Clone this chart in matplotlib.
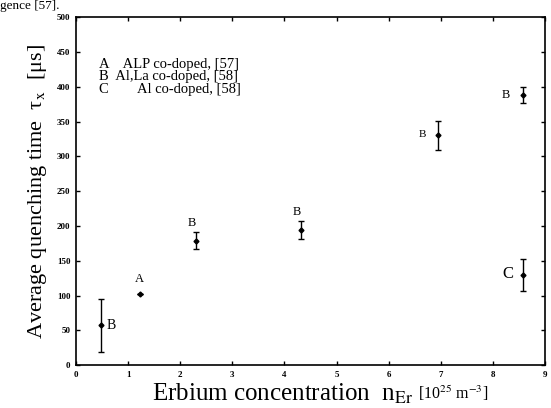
import matplotlib
matplotlib.use('Agg')
import matplotlib.pyplot as plt

plt.rcParams['font.family'] = ['Liberation Serif', 'DejaVu Serif']
plt.rcParams['mathtext.fontset'] = 'stix'

# data
conc = [0.47, 1.22, 2.30, 4.32, 6.95, 8.57, 8.58]
tau = [57, 102, 179, 194, 330, 388, 129]
err_lo = [38, 0, 12, 13, 21, 11, 23]
err_hi = [38, 0, 12, 13, 21, 12, 23]
labels = ['B', 'A', 'B', 'B', 'B', 'B', 'C']
# label offsets in points (dx, dy)
offs = [(8, 0), (0, 11), (-3, 13), (-3, 13), (-11, 1), (-12, 0), (-11, 1)]
lab_size = [10, 9, 9, 9, 8, 9, 12]

legend_lines = ['A    ALP co-doped, [57]',
                'B  Al,La co-doped, [58]',
                'C        Al co-doped, [58]']

fig = plt.figure(figsize=(5.51, 4.08), dpi=100)
ax = fig.add_axes([0.138, 0.105, 0.851, 0.853])

ax.errorbar(conc, tau, yerr=[err_lo, err_hi], fmt='D', color='black',
            markersize=2.5, elinewidth=1.0, capsize=2.5, capthick=1.0)

for x, y, t, (dx, dy), s in zip(conc, tau, labels, offs, lab_size):
    ax.annotate(t, (x, y), xytext=(dx, dy), textcoords='offset points',
                ha='center', va='center', fontsize=s)

for i, line in enumerate(legend_lines):
    ax.text(0.05, 0.865 - i * 0.037, line, transform=ax.transAxes,
            fontsize=10.5, va='center', ha='left')

ax.set_xlim(0, 9)
ax.set_ylim(0, 500)
ax.set_xticks(range(0, 10))
ax.set_yticks(range(0, 501, 50))
ax.tick_params(direction='in', top=True, right=True, length=3, width=1,
               labelsize=6.5, pad=4)
for lab in ax.get_xticklabels() + ax.get_yticklabels():
    lab.set_fontweight('bold')
for sp in ax.spines.values():
    sp.set_linewidth(1.2)

ax.set_ylabel('Average quenching time  τ$_{\\rm x}$  [μs]', fontsize=16, labelpad=6)

# x label: main part large, units part smaller
base_y = 1 - 401 / 408
xl = fig.text(152 / 551, base_y, r'Erbium concentration  n$_{\rm Er}$',
              fontsize=18, ha='left', va='baseline')
fig.canvas.draw()
bb = xl.get_window_extent()
fig.text((bb.x1 + 5) / fig.bbox.width, base_y + 0.004, r'[10$^{25}$ m$^{-3}$]',
         fontsize=11.5, ha='left', va='baseline')

fig.text(0.0, 1.0, 'gence [57].', fontsize=9.5, va='top', ha='left')

fig.savefig('out.png', dpi=100)
